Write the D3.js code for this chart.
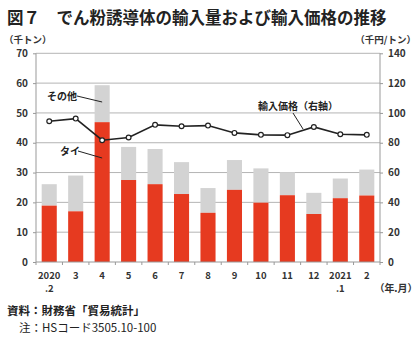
<!DOCTYPE html>
<html><head><meta charset="utf-8">
<script src="https://cdn.jsdelivr.net/npm/d3@7"></script>
<style>body{margin:0;background:#fff;}svg{display:block;font-family:"Noto Sans CJK JP","Noto Sans",sans-serif;}</style>
</head><body><svg id="c" width="420" height="339"></svg>
<script>
const months = ["2020\n.2","3","4","5","6","7","8","9","10","11","12","2021\n.1","2"];
const thai = [18.9,17.0,46.9,27.5,26.1,22.8,16.5,24.2,19.9,22.4,16.1,21.4,22.3];
const total = [26.1,29.0,59.3,38.6,37.9,33.5,24.8,34.2,31.4,30.1,23.2,28.0,31.0];
const price = [94.4,96.2,81.7,83.5,92.0,91.1,91.5,86.6,85.3,85.1,90.6,85.7,85.3];
const leftTicks = [0,10,20,30,40,50,60,70];
const rightTicks = [0,20,40,60,80,100,120,140];

const svg = d3.select("#c");
const L=36, R=380, T=53.3, B=262;
const x = d3.scaleBand().domain(months.map((d,i)=>i)).range([L,R]).paddingInner(0.43).paddingOuter(0.215);
const xc = i => x(i)+x.bandwidth()/2;
const yL = d3.scaleLinear().domain([0,70]).range([B,T]);
const yR = d3.scaleLinear().domain([0,140]).range([B,T]);

svg.append("text").attr("x",7).attr("y",24).attr("font-size",16.5).attr("font-weight","bold").attr("fill","#222")
  .text("図７　でん粉誘導体の輸入量および輸入価格の推移");

// gridlines
svg.append("g").selectAll("line").data(leftTicks.slice(1)).join("line")
  .attr("x1",L).attr("x2",R).attr("y1",d=>yL(d)).attr("y2",d=>yL(d))
  .attr("stroke","#b4b4b4").attr("stroke-width",1);

// bars
const g = svg.append("g");
g.selectAll(".o").data(total).join("rect").attr("x",(d,i)=>x(i)).attr("width",x.bandwidth())
  .attr("y",d=>yL(d)).attr("height",(d,i)=>yL(thai[i])-yL(d)).attr("fill","#d3d3d3");
g.selectAll(".t").data(thai).join("rect").attr("x",(d,i)=>x(i)).attr("width",x.bandwidth())
  .attr("y",d=>yL(d)).attr("height",d=>B-yL(d)).attr("fill","#e63a20");

// axes
const axL = d3.axisLeft(yL).tickValues(leftTicks).tickSize(3).tickPadding(5);
const axR = d3.axisRight(yR).tickValues(rightTicks).tickSize(3).tickPadding(5);
function style(sel){
  sel.select(".domain").attr("stroke","#999");
  sel.selectAll(".tick line").attr("stroke","#999");
  sel.selectAll(".tick text").attr("font-size",10).attr("font-weight","bold").attr("fill","#333").attr("font-family","Noto Sans CJK JP");
}
svg.append("g").attr("transform",`translate(${L},0)`).call(axL).call(style).call(s=>s.select(".domain").attr("d",`M0,${B}V${T}`));
svg.append("g").attr("transform",`translate(${R},0)`).call(axR).call(style).call(s=>s.select(".domain").attr("d",`M0,${B}V${T}`));
// bottom axis line and ticks between bands
svg.append("line").attr("x1",L).attr("x2",R).attr("y1",B).attr("y2",B).attr("stroke","#999");
const step = x.step();
svg.append("g").selectAll("line").data(d3.range(months.length+1)).join("line")
  .attr("x1",i=>x(0)-x.paddingOuter()*step+i*step).attr("x2",i=>x(0)-x.paddingOuter()*step+i*step)
  .attr("y1",B).attr("y2",B+3).attr("stroke","#999");

// x labels
const xl = svg.append("g").attr("font-size",9.5).attr("font-weight","bold").attr("fill","#333").attr("text-anchor","middle");
months.forEach((m,i)=>{
  m.split("\n").forEach((p,j)=>{
    xl.append("text").attr("x",xc(i)).attr("y",278.5+j*13).text(p);
  });
});
svg.append("text").attr("x",396).attr("y",292).attr("font-size",10).attr("font-weight","bold").attr("fill","#333").attr("text-anchor","middle").text("（年.月）");

// units
svg.append("text").attr("x",4).attr("y",43).attr("font-size",9.5).attr("font-weight","bold").attr("fill","#333").text("（千トン）");
svg.append("text").attr("x",416).attr("y",43).attr("font-size",9.5).attr("font-weight","bold").attr("fill","#333").attr("text-anchor","end").text("（千円/トン）");

// line
const line = d3.line().x((d,i)=>xc(i)).y(d=>yR(d));
svg.append("path").datum(price).attr("d",line).attr("fill","none").attr("stroke","#222").attr("stroke-width",1.6);
svg.append("g").selectAll("circle").data(price).join("circle").attr("cx",(d,i)=>xc(i)).attr("cy",d=>yR(d))
  .attr("r",2.4).attr("fill","#fff").attr("stroke","#222").attr("stroke-width",1.2);

// annotations
const ann = svg.append("g").attr("font-size",10).attr("font-weight","bold").attr("fill","#222");
ann.append("text").attr("x",62).attr("y",99.5).attr("text-anchor","middle").text("その他");
ann.append("line").attr("x1",77).attr("y1",96).attr("x2",xc(2)).attr("y2",102).attr("stroke","#222");
ann.append("text").attr("x",70).attr("y",154.5).attr("text-anchor","middle").text("タイ");
ann.append("line").attr("x1",78).attr("y1",151).attr("x2",xc(2)).attr("y2",158).attr("stroke","#222");
ann.append("text").attr("x",298).attr("y",110).attr("text-anchor","middle").text("輸入価格（右軸）");
ann.append("line").attr("x1",293).attr("y1",113).attr("x2",303).attr("y2",129).attr("stroke","#222");

// notes
svg.append("text").attr("x",7).attr("y",315).attr("font-size",11.5).attr("font-weight","bold").attr("fill","#222").text("資料：財務省「貿易統計」");
svg.append("text").attr("x",19).attr("y",332).attr("font-size",11.5).attr("fill","#222").text("注：HSコード3505.10-100");
</script></body></html>
